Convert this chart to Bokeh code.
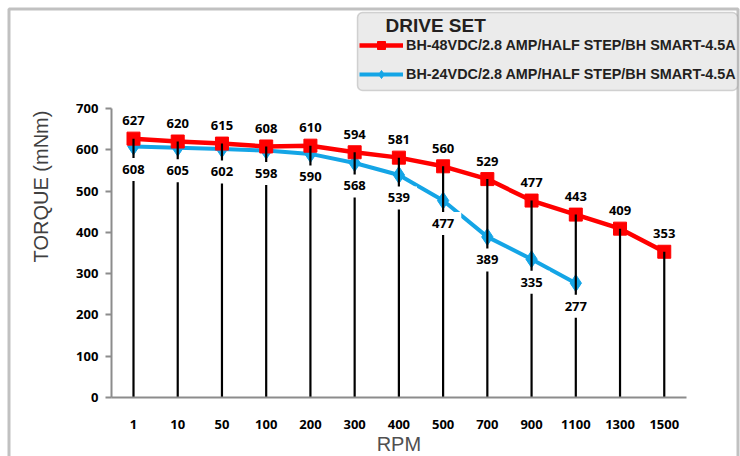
import math
from bokeh.plotting import figure
from bokeh.models import (ColumnDataSource, Range1d, Label, BoxAnnotation, Legend,
                          LegendItem, FixedTicker)
from bokeh.core.properties import value
from bokeh.embed import file_html
from bokeh.resources import INLINE

# ---- data ----
rpm = ["1", "10", "50", "100", "200", "300", "400", "500", "700", "900", "1100", "1300", "1500"]
torque_48v = [627, 620, 615, 608, 610, 594, 581, 560, 529, 477, 443, 409, 353]
torque_24v = [608, 605, 602, 598, 590, 568, 539, 477, 389, 335, 277]
y_ticks = [0, 100, 200, 300, 400, 500, 600, 700]
name_48 = "BH-48VDC/2.8 AMP/HALF STEP/BH SMART-4.5A"
name_24 = "BH-24VDC/2.8 AMP/HALF STEP/BH SMART-4.5A"
legend_title = "DRIVE SET"
x_title = "RPM"
y_title = "TORQUE (mNm)"

W, H = 740, 456
# pixel layout of the plotting region (canvas coordinates)
X_LEFT, X_STEP = 133.0, 44.23      # centre of first category, category spacing
Y_ZERO, Y_TOP = 397.0, 108.0       # pixel rows of 0 and 700
PX_PER_UNIT = (Y_ZERO - Y_TOP) / 700.0

idx48 = list(range(len(torque_48v)))
idx24 = list(range(len(torque_24v)))
src48 = ColumnDataSource(dict(x=idx48, y=torque_48v, zero=[0] * len(idx48),
                              t=[str(v) for v in torque_48v]))
src24 = ColumnDataSource(dict(x=idx24, y=torque_24v, t=[str(v) for v in torque_24v]))

x_range = Range1d(-X_LEFT / X_STEP, (W - X_LEFT) / X_STEP)
y_range = Range1d(-(H - Y_ZERO) / PX_PER_UNIT, Y_ZERO / PX_PER_UNIT)

p = figure(width=W, height=H, x_range=x_range, y_range=y_range,
           output_backend="svg", toolbar_location=None, min_border=0,
           min_border_left=0, min_border_right=0, min_border_top=0, min_border_bottom=0)
p.outline_line_color = None
p.grid.visible = False
p.background_fill_color = "white"
p.border_fill_color = "white"

RED = "#ff0000"
BLUE = "#14a5e6"
TXT = "Open Sans"
FS = "13px"

l24 = p.line("x", "y", source=src24, color=BLUE, line_width=4)
s24 = p.scatter("x", "y", source=src24, marker="diamond", size=17, color=BLUE)
l48 = p.line("x", "y", source=src48, color=RED, line_width=4.5)
s48 = p.scatter("x", "y", source=src48, marker="square", size=13, color=RED)
p.segment(x0="x", y0="zero", x1="x", y1="y", source=src48, color="black", line_width=2.2)

p.text("x", "y", text="t", source=src48, y_offset=-18, text_align="center",
       text_baseline="middle", text_font=value(TXT), text_font_style="bold",
       text_font_size=FS, text_color="black")
p.text("x", "y", text="t", source=src24, y_offset=23, text_align="center",
       text_baseline="middle", text_font=value(TXT), text_font_style="bold",
       text_font_size=FS, text_color="black", background_fill_color="white",
       padding=7)

# axes drawn at fixed positions
p.yaxis.fixed_location = -0.5
p.yaxis.bounds = (0, 700)
p.yaxis.ticker = FixedTicker(ticks=y_ticks)
p.yaxis.axis_line_color = "#8c8c8c"
p.yaxis.axis_line_width = 2
p.yaxis.major_tick_line_color = "#8c8c8c"
p.yaxis.major_tick_line_width = 2
p.yaxis.major_tick_out = 6
p.yaxis.major_tick_in = 0
p.yaxis.minor_tick_line_color = None
p.yaxis.major_label_standoff = 7
p.yaxis.major_label_text_font = TXT
p.yaxis.major_label_text_font_style = "bold"
p.yaxis.major_label_text_font_size = FS
p.yaxis.major_label_text_color = "black"

p.xaxis.fixed_location = 0
p.xaxis.bounds = (-0.5, len(rpm) - 0.5)
p.xaxis.ticker = FixedTicker(ticks=list(range(len(rpm))))
p.xaxis.major_label_overrides = {i: r for i, r in enumerate(rpm)}
p.xaxis.axis_line_color = "#8c8c8c"
p.xaxis.axis_line_width = 2
p.xaxis.major_tick_line_color = None
p.xaxis.minor_tick_line_color = None
p.xaxis.major_label_standoff = 16
p.xaxis.major_label_text_font = TXT
p.xaxis.major_label_text_font_style = "bold"
p.xaxis.major_label_text_font_size = FS
p.xaxis.major_label_text_color = "black"

# axis titles
p.add_layout(Label(x=40.5, y=H - 186, x_units="screen", y_units="screen",
                   text=y_title, angle=math.pi / 2, text_align="center",
                   text_baseline="middle", text_font="Liberation Sans",
                   text_font_size="20px", text_color="#404040"))
p.add_layout(Label(x=(X_LEFT - X_STEP / 2 + X_LEFT + X_STEP * (len(rpm) - 0.5)) / 2,
                   y=H - 443, x_units="screen", y_units="screen",
                   text=x_title, text_align="center", text_baseline="middle",
                   text_font="Liberation Sans", text_font_size="20px",
                   text_color="#505050"))

# outer frame
p.add_layout(BoxAnnotation(left=8.5, right=737.5, top=H - 8.5, bottom=-20,
                           left_units="screen", right_units="screen",
                           top_units="screen", bottom_units="screen",
                           fill_color=None, line_color="#333333", line_width=3))

# legend box
p.add_layout(BoxAnnotation(left=357, right=737, top=H - 12, bottom=H - 90,
                           left_units="screen", right_units="screen",
                           top_units="screen", bottom_units="screen",
                           fill_color="#ebebeb", fill_alpha=1, line_color="#7a7a7a",
                           line_width=1.5, border_radius=5))
p.add_layout(Label(x=385, y=H - 25, x_units="screen", y_units="screen",
                   text=legend_title, text_align="left", text_baseline="middle",
                   text_font="Liberation Sans", text_font_style="bold",
                   text_font_size="19px", text_color="#231f20"))

legend = Legend(items=[LegendItem(label=name_48, renderers=[l48, s48]),
                       LegendItem(label=name_24, renderers=[l24, s24])],
                location=(359, H - 84), orientation="vertical",
                background_fill_alpha=0, border_line_color=None, padding=0, margin=0,
                spacing=9, glyph_width=44, glyph_height=20, label_height=20,
                label_standoff=3, label_text_font="Liberation Sans",
                label_text_font_style="bold", label_text_font_size="14.4px",
                label_text_color="#231f20")
p.add_layout(legend)

open("out.html", "w").write(file_html(p, INLINE))
